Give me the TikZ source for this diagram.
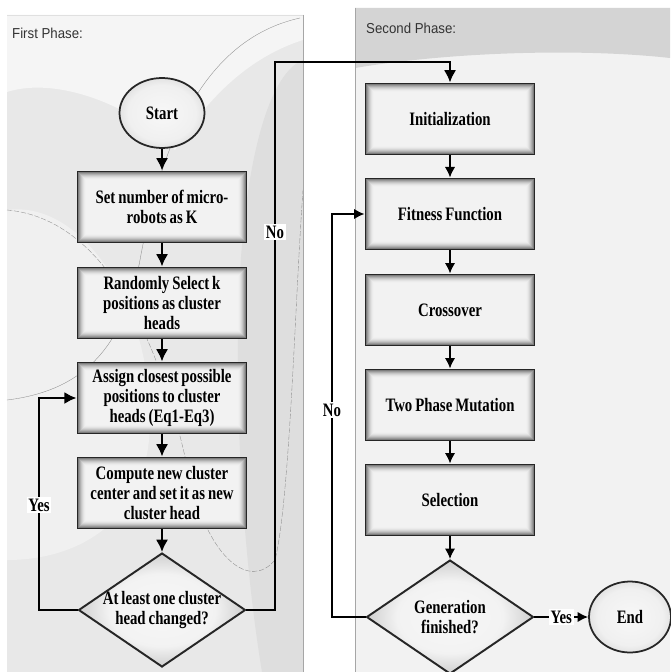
\documentclass[tikz,border=0pt]{standalone}
\usepackage{fontspec}
\usetikzlibrary{arrows.meta,shapes.geometric,calc}
\newfontfamily\boxfont{Liberation Serif}[FakeStretch=0.78,WordSpace=0.8]
\newfontfamily\headfont{Liberation Sans}[FakeStretch=0.92]

\pgfdeclareradialshading{ovalrim}{\pgfpoint{0bp}{0bp}}{color(0bp)=(black!3); color(20bp)=(black!6); color(36bp)=(black!22); color(50bp)=(black!55)}
\pgfdeclareradialshading{diamrim}{\pgfpoint{0bp}{0bp}}{color(0bp)=(black!3); color(16bp)=(black!5); color(26bp)=(black!20); color(33bp)=(black!40); color(38bp)=(black!52); color(50bp)=(black!55)}

\tikzset{
  txt/.style={font=\boxfont\bfseries\fontsize{10.8}{11.6}\selectfont, align=center},
  stepbox/.style={txt, align=flush center, rectangle, draw=black!85, line width=1.1pt,
    minimum width=3.38cm, minimum height=1.42cm, inner sep=0pt, text width=3.3cm,
    path picture={
      \foreach \k in {0,...,9}{
        \pgfmathsetmacro\tint{5+58*(1-\k/9)^2}
        \fill[black!\tint] ([xshift=\k*0.55pt,yshift=-\k*0.55pt]path picture bounding box.north west)
          rectangle ([xshift=-\k*0.55pt,yshift=\k*0.55pt]path picture bounding box.south east);
      }}},
  oval/.style={txt, ellipse, draw=black!85, line width=1pt, shading=ovalrim, inner sep=0pt},
  test/.style={diamond, draw=black!85, line width=1.1pt, shading=diamrim,
    minimum width=3.34cm, minimum height=2.28cm, inner sep=0pt},
  flow/.style={line width=1.5pt, -{Latex[length=7pt,width=7pt]}},
  flowb/.style={line width=1.1pt, -{Latex[length=6pt,width=6pt]}},
  lbl/.style={txt, fill=white, inner sep=1pt},
  head/.style={font=\headfont\fontsize{8.2}{10}\selectfont, text=black!80, anchor=west}
}

\begin{document}
\begin{tikzpicture}[x=0.02cm, y=-0.02cm]
\useasboundingbox (0,0) rectangle (670,672);
\fill[white] (0,0) rectangle (670,672);

% first phase backdrop
\fill[black!9] (7,15) rectangle (303,672);
\fill[black!4] (7,15) -- (303,15) -- (303,40) .. controls (240,60) and (200,110) .. (175,150)
  .. controls (140,110) and (60,75) .. (7,92) -- cycle;
\fill[black!13] (303,60) .. controls (265,75) and (240,180) .. (238,330)
  .. controls (236,470) and (250,600) .. (262,672) -- (303,672) -- cycle;
\fill[black!6] (7,210) .. controls (80,200) and (150,300) .. (150,420)
  .. controls (150,520) and (80,560) .. (7,560) -- cycle;
\draw[black!45, very thin] (300,18) .. controls (200,40) and (160,150) .. (140,260)
  .. controls (125,340) and (90,390) .. (7,400);
\draw[black!45, very thin, dash pattern=on 3pt off 1pt] (7,210) .. controls (120,220) and (170,380) .. (190,480)
  .. controls (210,560) and (250,590) .. (275,560) .. controls (290,500) and (295,300) .. (303,190);
\draw[black!12] (7,15) -- (303,15);
\draw[black!35] (303,15) -- (303,672);
\node[head] (ph1) at (6,33) {First Phase:};

% second phase backdrop
\fill[black!5] (355,8) rectangle (670,672);
\fill[black!17] (355,8) -- (670,8) -- (670,58) .. controls (580,48) and (450,52) .. (355,68) -- cycle;
\draw[black!35] (355,8) -- (355,672);
\node[head] (ph2) at (360,28) {Second Phase:};

% first phase nodes
\node[oval, minimum width=1.7cm, minimum height=1.4cm] (start) at (162,113) {Start};
\node[stepbox] (setk) at (162,207) {Set number of micro-\\robots as K};
\node[stepbox] (rand) at (162,303) {Randomly Select k\\positions as cluster\\heads};
\node[stepbox] (assign) at (162,398) {Assign closest possible\\positions to cluster\\heads (Eq1-Eq3)};
\node[stepbox] (comp) at (162,493) {Compute new cluster\\center and set it as new\\cluster head};
\node[test, label={[txt]center:At least one cluster\\head changed?}] (chg) at (162,610) {};

% second phase nodes
\node[stepbox] (init) at (450,119) {Initialization};
\node[stepbox] (fit) at (450,214) {Fitness Function};
\node[stepbox] (cross) at (450,310) {Crossover};
\node[stepbox] (mut) at (450,405) {Two Phase Mutation};
\node[stepbox] (sel) at (450,500) {Selection};
\node[test, label={[txt]center:Generation\\finished?}] (gen) at (450,617) {};
\node[oval, minimum width=1.64cm, minimum height=1.42cm] (end) at (630,617) {End};

\coordinate (nomark) at (275,232);
\coordinate (nobend) at (275,62);
\coordinate (yesmark) at (39,505);
\coordinate (nomark2) at (332,410);

\draw[flow] (start) -- (setk);
\draw[flow] (setk) -- (rand);
\draw[flow] (rand) -- (assign);
\draw[flow] (assign) -- (comp);
\draw[flow] (comp) -- (chg);
\draw[flow] (chg.west) -| (yesmark) node[lbl] {Yes} |- (assign.west);
\draw[flow] (chg.east) -| (nomark) node[lbl] {No} -- (nobend) -| (init.north);

\draw[flowb] (init) -- (fit);
\draw[flowb] (fit) -- (cross);
\draw[flowb] (cross) -- (mut);
\draw[flowb] (mut) -- (sel);
\draw[flowb] (sel) -- (gen);
\draw[flowb] (gen.west) -| (nomark2) node[lbl] {No} |- (fit.west);
\draw[flowb] (gen.east) -- node[lbl] {Yes} (end);
\end{tikzpicture}
\end{document}
